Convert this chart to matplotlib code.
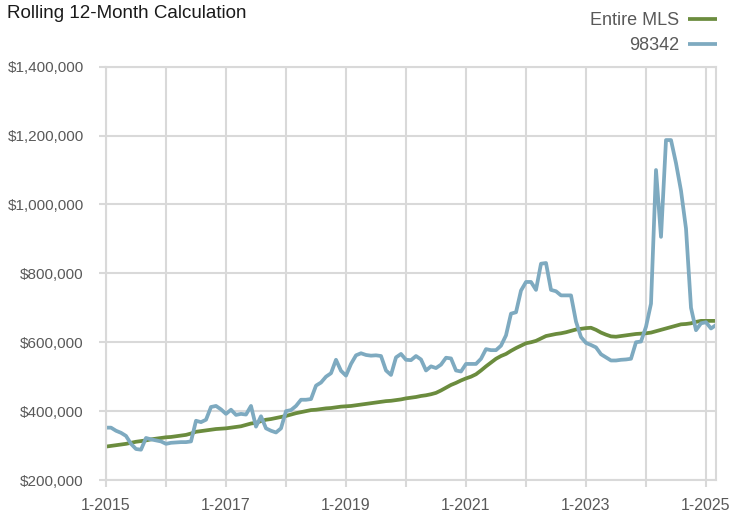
import matplotlib
matplotlib.use("Agg")
import matplotlib.pyplot as plt
from matplotlib.ticker import FuncFormatter, FixedLocator

plt.rcParams['font.family'] = ['Liberation Sans Narrow', 'Liberation Sans', 'DejaVu Sans']

# monthly labels, Jan 2015 .. Mar 2025
years = list(range(2015, 2026))
months = [f"{m}-{y}" for y in years for m in range(1, 13)][:123]

# Rolling 12-month median price, Entire MLS
entire_mls = [
    297000, 299000, 301000, 303000, 305000, 308000, 311000, 313000, 315000, 318000, 320000, 322000,
    324000, 325000, 327000, 329000, 331000, 335000, 340000, 342000, 344000, 346000, 348000, 349000,
    350000, 352000, 354000, 356000, 360000, 364000, 366000, 371000, 375000, 377000, 380000, 383000,
    386000, 390000, 394000, 397000, 400000, 403000, 404000, 406000, 408000, 409000, 411000, 413000,
    414000, 415000, 417000, 419000, 421000, 423000, 425000, 427000, 429000, 430000, 432000, 434000,
    437000, 439000, 441000, 444000, 446000, 449000, 453000, 460000, 468000, 476000, 482000, 489000,
    495000, 500000, 507000, 518000, 530000, 541000, 552000, 560000, 566000, 575000, 583000, 590000,
    597000, 600000, 604000, 611000, 618000, 621000, 624000, 626000, 629000, 633000, 637000, 639000,
    641000, 642000, 636000, 628000, 622000, 617000, 616000, 618000, 620000, 622000, 624000, 625000,
    626000, 628000, 632000, 636000, 640000, 644000, 648000, 652000, 653000, 655000, 659000, 662000,
    662000, 662000, 662000,
]

# Rolling 12-month median price, zip 98342
zip_98342 = [
    352000, 352000, 343000, 337000, 328000, 305000, 290000, 288000, 322000, 318000, 315000, 312000,
    305000, 308000, 309000, 310000, 310000, 312000, 372000, 368000, 375000, 412000, 415000, 405000,
    392000, 404000, 389000, 392000, 390000, 415000, 355000, 385000, 350000, 343000, 338000, 350000,
    400000, 403000, 415000, 433000, 433000, 435000, 474000, 483000, 500000, 510000, 549000, 517000,
    503000, 537000, 562000, 568000, 563000, 561000, 562000, 560000, 518000, 505000, 556000, 566000,
    549000, 548000, 560000, 550000, 518000, 530000, 525000, 535000, 555000, 553000, 518000, 515000,
    537000, 537000, 537000, 552000, 580000, 577000, 577000, 590000, 620000, 683000, 687000, 750000,
    775000, 775000, 752000, 828000, 830000, 752000, 748000, 736000, 736000, 736000, 660000, 615000,
    598000, 592000, 585000, 565000, 556000, 547000, 547000, 549000, 550000, 552000, 600000, 602000,
    645000, 712000, 1100000, 906000, 1187000, 1187000, 1120000, 1040000, 930000, 700000, 635000, 655000,
    658000, 640000, 650000,
]

series_names = ["Entire MLS", "98342"]
series_colors = ["#6b8c3e", "#7eaac0"]
y_ticks = [200000, 400000, 600000, 800000, 1000000, 1200000, 1400000]

GRID = "#d9d9d9"
TEXT = "#595959"

fig = plt.figure(figsize=(7.33, 5.15), dpi=100)
ax = fig.add_axes([106 / 733, 1 - 480 / 515, 610 / 733, (480 - 66.7) / 515])

x = list(range(len(months)))
ax.plot(x, entire_mls, color=series_colors[0], lw=2.7, label=series_names[0], solid_capstyle="butt")
ax.plot(x, zip_98342, color=series_colors[1], lw=2.7, label=series_names[1], solid_capstyle="butt")

ax.set_xlim(0, len(months) - 1)
ax.set_ylim(200000, 1400000)
ax.set_yticks(y_ticks)
ax.yaxis.set_major_formatter(FuncFormatter(lambda v, p: f"${v:,.0f}"))

year_idx = list(range(0, len(months), 12))
ax.xaxis.set_major_locator(FixedLocator(year_idx))
ax.set_xticklabels([months[i] if (i // 12) % 2 == 0 else "" for i in year_idx])

ax.grid(True, color=GRID, lw=1.5)
ax.set_axisbelow(True)
for s in ax.spines.values():
    s.set_color(GRID)
    s.set_linewidth(1.5)
ax.tick_params(axis="y", colors=GRID, labelcolor=TEXT, labelsize=11, length=5, width=1.5, pad=11)
ax.tick_params(axis="x", colors=GRID, labelcolor=TEXT, labelsize=11.5, length=5, width=1.5, pad=8)

fig.text(7 / 733, 1 - 5 / 515, "Rolling 12-Month Calculation", ha="left", va="top",
         fontsize=13.5, color="#1a1a1a")

fig.legend(loc="upper right", bbox_to_anchor=(726 / 733, 1 - 3 / 515), frameon=False,
           markerfirst=False, fontsize=13, handlelength=1.6, handletextpad=0.5,
           labelspacing=0.45, borderpad=0, labelcolor=TEXT)

fig.savefig("out.png", dpi=100)
